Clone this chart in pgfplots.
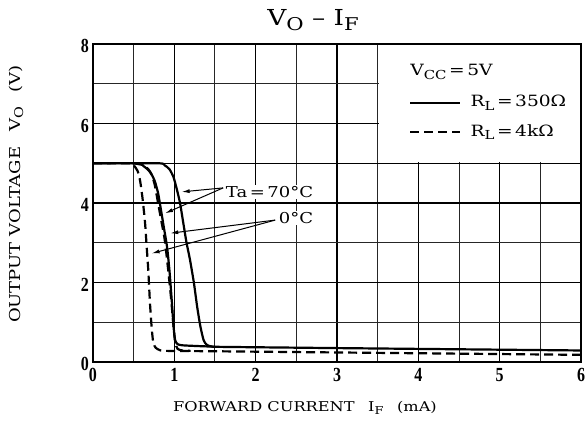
\documentclass[border=0pt]{standalone}
\usepackage{fontspec}
\setmainfont{DejaVu Serif}[FakeStretch=1.2]
\newfontfamily\tickfont{Liberation Serif}[FakeStretch=0.8]
\usepackage{pgfplots}
\pgfplotsset{compat=1.18}
\usetikzlibrary{arrows.meta}
\newcommand{\sub}[1]{\raisebox{-0.4ex}{\scalebox{0.8}{#1}}}

\begin{document}
\begin{tikzpicture}
  \useasboundingbox (-93pt,-67pt) rectangle (493pt,362pt);
  \begin{axis}[
    at={(0,0)}, anchor=south west,
    scale only axis, width=488pt, height=318pt,
    xmin=0, xmax=6, ymin=0, ymax=8,
    xtick={0,...,6}, ytick={0,2,4,6,8},
    minor xtick={0.5,1.5,2.5,3.5,4.5,5.5}, minor ytick={1,3,5,7},
    extra y ticks={5}, extra y tick labels={},
    extra y tick style={grid=major},
    grid=both,
    major grid style={black, line width=1.5pt},
    minor grid style={black!85, line width=1pt},
    major tick length=0, minor tick length=0,
    axis line style={line width=2.2pt},
    /pgf/number format/assume math mode=true,
    tick label style={font=\tickfont\bfseries\fontsize{20}{20}\selectfont},
    xticklabel style={anchor=north, inner sep=0pt, yshift=-6pt},
    yticklabel style={anchor=east, inner sep=0pt, xshift=-4pt, yshift=-2pt},
  ]
    % blank area behind the legend
    \fill[white] (axis cs:3.513,5.04) rectangle (axis cs:5.983,7.97);

    % R_L = 4 kOhm, 0 C
    \addplot[black, line width=2.2pt, dash pattern=on 9pt off 5pt, smooth, tension=0.4] coordinates {
      (0,5) (0.45,5) (0.50,4.95) (0.55,4.8) (0.58,4.55) (0.61,4.1) (0.64,3.5)
      (0.66,2.9) (0.68,2.3) (0.70,1.5) (0.72,0.9) (0.74,0.5) (0.77,0.36)
      (0.82,0.30) (0.9,0.28) (1.5,0.27) (3,0.24) (4.5,0.21) (6,0.18)};
    % R_L = 4 kOhm, 70 C
    \addplot[black, line width=2.2pt, dash pattern=on 9pt off 5pt, smooth, tension=0.4] coordinates {
      (0.5,5) (0.62,4.95) (0.68,4.85) (0.72,4.72) (0.76,4.45) (0.80,4.0)
      (0.84,3.55) (0.88,3.1) (0.92,2.4) (0.96,1.6) (0.99,0.9) (1.01,0.5)
      (1.04,0.33) (1.1,0.29) (1.2,0.28)};
    % R_L = 350 Ohm, 0 C
    \addplot[black, line width=2.2pt, smooth, tension=0.4] coordinates {
      (0,5) (0.55,5) (0.62,4.93) (0.68,4.83) (0.72,4.72) (0.76,4.55)
      (0.80,4.25) (0.83,3.9) (0.87,3.4) (0.91,2.9) (0.94,2.3) (0.97,1.5)
      (0.99,0.9) (1.01,0.55) (1.04,0.45) (1.1,0.42) (1.3,0.40) (1.5,0.385)};
    % R_L = 350 Ohm, 70 C
    \addplot[black, line width=2.2pt, smooth, tension=0.4] coordinates {
      (0,5) (0.8,5) (0.88,4.95) (0.94,4.85) (0.99,4.65) (1.03,4.35)
      (1.07,4.0) (1.11,3.5) (1.15,3.0) (1.19,2.6) (1.24,2.0) (1.28,1.4)
      (1.32,0.9) (1.36,0.55) (1.40,0.43) (1.46,0.39) (1.6,0.38) (3,0.35)
      (4.5,0.32) (6,0.29)};

    % annotations
    \draw[line width=1pt, -{Latex[length=8pt,width=4pt]}] (axis cs:1.60,4.38) -- (axis cs:1.09,4.28);
    \draw[line width=1pt, -{Latex[length=8pt,width=4pt]}] (axis cs:1.60,4.38) -- (axis cs:0.885,3.74);
    \draw[line width=1pt, -{Latex[length=8pt,width=4pt]}] (axis cs:2.24,3.57) -- (axis cs:0.95,3.24);
    \draw[line width=1pt, -{Latex[length=8pt,width=4pt]}] (axis cs:2.24,3.57) -- (axis cs:0.72,2.73);
    \node[anchor=west, fill=white, inner sep=1pt, font=\fontsize{15}{15}\selectfont]
      at (axis cs:1.62,4.28) {Ta\,=\,70°C};
    \node[anchor=west, fill=white, inner sep=1pt, font=\fontsize{15}{15}\selectfont]
      at (axis cs:2.27,3.62) {0°C};

    % legend
    \node[anchor=west, inner sep=0pt, font=\fontsize{15.5}{15.5}\selectfont]
      at (axis cs:3.90,7.30) {V\sub{CC}\,=\,5V};
    \draw[line width=2.2pt] (axis cs:3.90,6.52) -- (axis cs:4.51,6.52);
    \node[anchor=west, inner sep=0pt, font=\fontsize{15.5}{15.5}\selectfont]
      at (axis cs:4.64,6.52) {R\sub{L}\,=\,350Ω};
    \draw[line width=2.2pt, dash pattern=on 9pt off 5pt] (axis cs:3.90,5.79) -- (axis cs:4.51,5.79);
    \node[anchor=west, inner sep=0pt, font=\fontsize{15.5}{15.5}\selectfont]
      at (axis cs:4.64,5.79) {R\sub{L}\,=\,4kΩ};
  \end{axis}

  \node[font=\fontsize{22}{22}\selectfont] at (220pt,342pt) {V\sub{O} – I\sub{F}};
  \node[font=\fontsize{13.5}{13.5}\selectfont] at (212pt,-46pt)
    {FORWARD CURRENT\quad I\sub{F}\quad (mA)};
  \node[rotate=90, font=\fontsize{15}{15}\selectfont] at (-77pt,168pt)
    {OUTPUT VOLTAGE\quad V\sub{O}\quad (V)};
\end{tikzpicture}
\end{document}
